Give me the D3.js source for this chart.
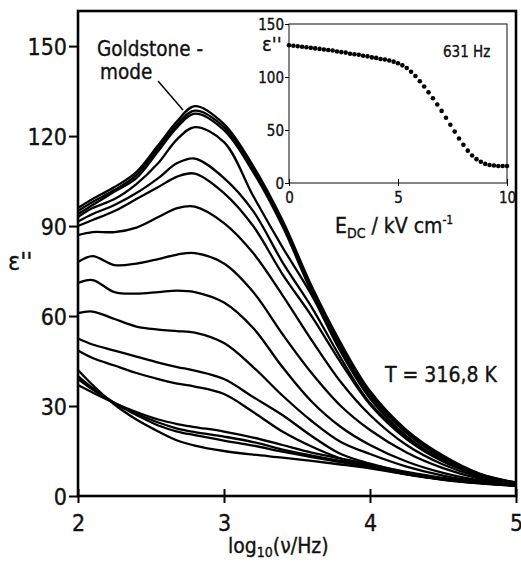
<!DOCTYPE html>
<html>
<head>
<meta charset="utf-8">
<script src="https://cdn.jsdelivr.net/npm/d3@7"></script>
<style>
  body { margin: 0; background: #fff; }
  text { font-family: "DejaVu Sans Condensed", "DejaVu Sans", sans-serif; fill: #111; stroke: #111; stroke-width: 0.35px; }
</style>
</head>
<body>
<script>
const width = 521
const height = 564

// main plot: eps'' vs log10(nu/Hz), one curve per bias field
const logFreq = [2, 2.1, 2.25, 2.4, 2.55, 2.68, 2.8, 3, 3.2, 3.4, 3.6, 3.8, 4, 4.25, 4.5, 4.75, 5]

const curveA1 = [96, 99, 103, 108, 117, 125, 130, 124, 110, 92, 70, 51, 35, 22, 13.5, 7.5, 4.5]
const curveA2 = [95, 98, 102, 107, 116, 124, 128.5, 123, 109, 91, 69, 50, 34, 21.5, 13, 7.3, 4.4]
const curveA3 = [94, 97, 101.5, 106, 115, 123, 127.5, 122, 108, 90, 68, 49, 33.5, 21, 12.6, 7.2, 4.3]
const curveB = [93, 96, 99, 104, 111, 119, 123, 118, 100, 83, 67, 48, 32.5, 20, 12, 7, 4.2]
const curveC = [91.5, 94, 97, 101, 106, 111, 112.5, 106, 95, 78, 63, 46, 31, 19.5, 11.7, 6.9, 4.1]
const curveD = [90, 92, 95, 99, 103, 106.5, 107.5, 101, 90, 74, 60, 44.5, 30.5, 19, 11.5, 6.8, 4.1]
const curveE = [87, 88, 88, 89.5, 93, 96, 96.5, 91, 81, 67, 52, 38, 27, 17, 10.5, 6.3, 4]
const curveF = [78, 80, 77, 77.5, 79, 80.5, 81, 77.5, 68, 54, 41, 30, 22, 14.5, 9.3, 5.8, 3.8]
const curveG = [71, 72, 68, 67.5, 68, 68.5, 68, 64.5, 56, 43, 31.5, 23, 17, 11.5, 7.7, 5.2, 3.7]
const curveH = [61, 61.5, 59, 56.5, 55.5, 55, 54.5, 51, 43, 33.5, 25, 18, 14, 9.8, 6.8, 4.8, 3.6]
const curveI = [52.5, 50.5, 48.5, 46.5, 44.5, 43, 41.8, 39, 33, 27, 20, 14, 10.8, 7.8, 5.8, 4.4, 3.5]
const curveJ = [48.5, 46, 43.5, 41, 39, 37.5, 36.5, 34, 28, 21.5, 16.5, 12.5, 9.8, 7.2, 5.4, 4.2, 3.4]
const curveL1 = [37, 34.5, 31, 28, 25.5, 24, 23, 21.5, 19.5, 17, 14.5, 12.5, 10.5, 8, 6, 4.6, 3.6]
const curveL2 = [39, 35.5, 31, 27.5, 24.5, 22.5, 21.3, 19.8, 18, 15.5, 13.5, 11.7, 10, 7.6, 5.8, 4.5, 3.5]
const curveL3 = [40, 36, 31, 27, 23.5, 21.5, 20.3, 18.5, 16.8, 14.8, 13, 11.3, 9.6, 7.4, 5.6, 4.4, 3.5]
const curveL4 = [42, 37, 30.5, 25.5, 21.5, 18.5, 16.8, 15, 13.8, 12.8, 11.7, 10.5, 9.2, 7.2, 5.5, 4.3, 3.4]

const allCurves = [curveA1, curveA2, curveA3, curveB, curveC, curveD, curveE, curveF,
    curveG, curveH, curveI, curveJ, curveL1, curveL2, curveL3, curveL4]

const xTicks = [2, 3, 4, 5]
const yTicks = [0, 30, 60, 90, 120, 150]

// inset: eps'' at 631 Hz vs bias field
const fieldKV = [0, 0.2, 0.4, 0.6, 0.8, 1.0, 1.2, 1.4, 1.6, 1.8, 2.0, 2.2, 2.4, 2.6, 2.8, 3.0,
    3.2, 3.4, 3.6, 3.8, 4.0, 4.2, 4.4, 4.6, 4.8, 5.0, 5.2, 5.4, 5.6, 5.8, 6.0, 6.2, 6.4, 6.6,
    6.8, 7.0, 7.2, 7.4, 7.6, 7.8, 8.0, 8.2, 8.4, 8.6, 8.8, 9.0, 9.2, 9.4, 9.6, 9.8, 10]
const eps631 = [130, 129.5, 129, 128.5, 128, 127.5, 127, 126.5, 126, 125.5, 125, 124, 123.5,
    123, 122, 121.5, 121, 120, 119.5, 118.5, 118, 117, 116.5, 115.5, 114.5, 113, 111, 108.5,
    105, 101, 96, 91, 85.5, 80, 74, 68, 61.5, 55, 48.5, 42, 36, 30.5, 26, 22.5, 20, 18, 17,
    16.5, 16, 16, 16]

const insetXTicks = [0, 5, 10]
const insetYTicks = [0, 50, 100, 150]

const svg = d3.select('body')
    .append('svg')
    .attr('width', width)
    .attr('height', height)

const x = d3.scaleLinear().domain([2, 5]).range([78, 516])
const y = d3.scaleLinear().domain([0, 161.7]).range([496, 11])

const line = d3.line()
    .x((d, i) => x(logFreq[i]))
    .y(d => y(d))
    .curve(d3.curveCatmullRom.alpha(0.5))

svg.append('g')
    .selectAll('.curve')
    .data(allCurves)
    .enter().append('path')
    .attr('class', 'curve')
    .attr('d', line)
    .attr('fill', 'none')
    .attr('stroke', '#000')
    .attr('stroke-width', 2.3)
    .attr('stroke-linejoin', 'round')

// frame
svg.append('rect')
    .attr('x', 78).attr('y', 11)
    .attr('width', 438).attr('height', 485)
    .attr('fill', 'none')
    .attr('stroke', '#000')
    .attr('stroke-width', 2.6)

const xAxis = svg.append('g')
    .attr('transform', 'translate(0,496)')
    .call(d3.axisBottom(x).tickValues(xTicks).tickSize(7).tickFormat(d3.format('d')))
xAxis.select('.domain').remove()
xAxis.selectAll('line').attr('y1', -7).attr('y2', 7).attr('stroke-width', 2)
xAxis.selectAll('text')
    .attr('y', 35).attr('dy', 0)
    .style('font-size', '23px')

const yAxis = svg.append('g')
    .attr('transform', 'translate(78,0)')
    .call(d3.axisLeft(y).tickValues(yTicks).tickSize(9))
yAxis.select('.domain').remove()
yAxis.selectAll('line').attr('stroke-width', 2)
yAxis.selectAll('text')
    .attr('x', -11).attr('dy', '0.36em')
    .style('font-size', '23px')
svg.selectAll('.tick text').attr('fill', '#111').attr('font-family', null)

svg.append('text')
    .attr('x', 8).attr('y', 270)
    .style('font-size', '25px')
    .text("ε''")

const xLabel = svg.append('text')
    .attr('x', 228).attr('y', 553)
    .style('font-size', '21px')
xLabel.append('tspan').text('log')
xLabel.append('tspan').attr('dy', 4).style('font-size', '14px').text('10')
xLabel.append('tspan').attr('dy', -4).text('(ν/Hz)')

svg.append('text')
    .attr('x', 97).attr('y', 56)
    .style('font-size', '20.5px')
    .text('Goldstone -')
svg.append('text')
    .attr('x', 100).attr('y', 79)
    .style('font-size', '20.5px')
    .text('mode')
svg.append('line')
    .attr('x1', 158).attr('y1', 81)
    .attr('x2', 183).attr('y2', 110)
    .attr('stroke', '#000')
    .attr('stroke-width', 1.5)

svg.append('text')
    .attr('x', 385).attr('y', 382)
    .style('font-size', '21px')
    .text('T = 316,8 K')

// inset
const ix = d3.scaleLinear().domain([0, 10]).range([289, 507])
const iy = d3.scaleLinear().domain([0, 150]).range([183, 24])

const inset = svg.append('g')

inset.append('rect')
    .attr('x', 289).attr('y', 24)
    .attr('width', 218).attr('height', 159)
    .attr('fill', '#fff')
    .attr('stroke', '#222')
    .attr('stroke-width', 1.1)

inset.append('g')
    .selectAll('circle')
    .data(eps631)
    .enter().append('circle')
    .attr('cx', (d, i) => ix(fieldKV[i]))
    .attr('cy', d => iy(d))
    .attr('r', 2.3)
    .attr('fill', '#000')

const ixAxis = inset.append('g')
    .attr('transform', 'translate(0,183)')
    .call(d3.axisBottom(ix).tickValues(insetXTicks).tickSize(4))
ixAxis.select('.domain').remove()
ixAxis.selectAll('line').attr('y1', -4).attr('y2', 3)
ixAxis.selectAll('text')
    .attr('y', 20).attr('dy', 0)
    .style('font-size', '15px')

const iyAxis = inset.append('g')
    .attr('transform', 'translate(289,0)')
    .call(d3.axisLeft(iy).tickValues(insetYTicks).tickSize(4))
iyAxis.select('.domain').remove()
iyAxis.selectAll('text')
    .attr('x', -5).attr('dy', '0.36em')
    .style('font-size', '15px')
inset.selectAll('.tick text').attr('fill', '#111').attr('font-family', null)

inset.append('text')
    .attr('x', 262).attr('y', 51)
    .style('font-size', '20px')
    .text("ε''")

inset.append('text')
    .attr('x', 443).attr('y', 57)
    .style('font-size', '15px')
    .text('631 Hz')

const eLabel = inset.append('text')
    .attr('x', 335).attr('y', 233)
    .style('font-size', '21px')
eLabel.append('tspan').text('E')
eLabel.append('tspan').attr('dy', 5).style('font-size', '14px').text('DC')
eLabel.append('tspan').attr('dy', -5).text(' / kV cm')
eLabel.append('tspan').attr('dy', -9).style('font-size', '12px').text('-1')
</script>
</body>
</html>
